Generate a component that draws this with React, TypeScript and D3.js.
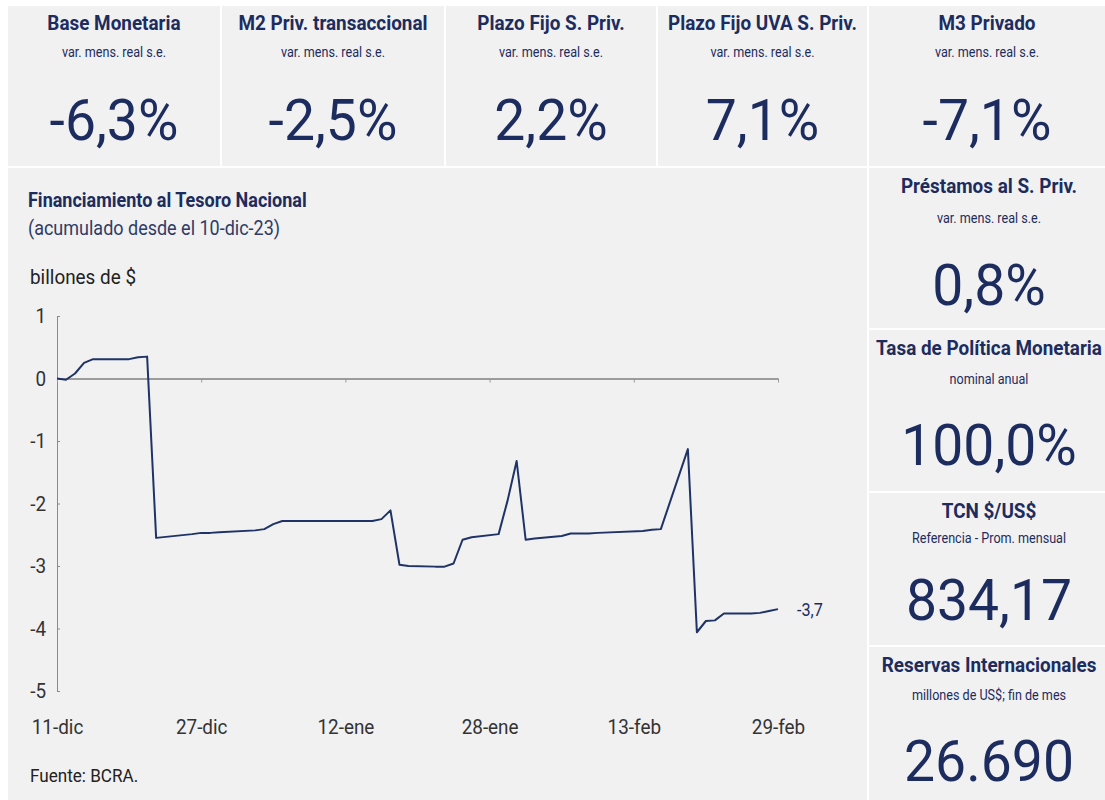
import React, { useEffect, useRef } from "react";
import * as d3 from "d3";

// tarjetas superiores
const topTitles = ["Base Monetaria", "M2 Priv. transaccional", "Plazo Fijo S. Priv.", "Plazo Fijo UVA S. Priv.", "M3 Privado"];
const topSubs = ["var. mens. real s.e.", "var. mens. real s.e.", "var. mens. real s.e.", "var. mens. real s.e.", "var. mens. real s.e."];
const topValues = ["-6,3%", "-2,5%", "2,2%", "7,1%", "-7,1%"];

// tarjetas de la derecha
const sideTitles = ["Préstamos al S. Priv.", "Tasa de Política Monetaria", "TCN $/US$", "Reservas Internacionales"];
const sideSubs = ["var. mens. real s.e.", "nominal anual", "Referencia - Prom. mensual", "millones de US$; fin de mes"];
const sideValues = ["0,8%", "100,0%", "834,17", "26.690"];

// serie: financiamiento al tesoro, billones de $
const dates = [
  "2023-12-11", "2023-12-12", "2023-12-13", "2023-12-14", "2023-12-15", "2023-12-18", "2023-12-19", "2023-12-20",
  "2023-12-21", "2023-12-22", "2023-12-26", "2023-12-27", "2023-12-28", "2023-12-29", "2024-01-02", "2024-01-03",
  "2024-01-04", "2024-01-05", "2024-01-08", "2024-01-09", "2024-01-10", "2024-01-11", "2024-01-12", "2024-01-15",
  "2024-01-16", "2024-01-17", "2024-01-18", "2024-01-19", "2024-01-22", "2024-01-23", "2024-01-24", "2024-01-25",
  "2024-01-26", "2024-01-29", "2024-01-30", "2024-01-31", "2024-02-01", "2024-02-02", "2024-02-05", "2024-02-06",
  "2024-02-07", "2024-02-08", "2024-02-09", "2024-02-14", "2024-02-15", "2024-02-16", "2024-02-19", "2024-02-20",
  "2024-02-21", "2024-02-22", "2024-02-23", "2024-02-26", "2024-02-27", "2024-02-28", "2024-02-29",
];
const values = [
  0.0, -0.02, 0.08, 0.25, 0.31, 0.31, 0.31, 0.34,
  0.35, -2.55, -2.49, -2.47, -2.47, -2.46, -2.43, -2.41,
  -2.33, -2.28, -2.28, -2.28, -2.28, -2.28, -2.28, -2.28,
  -2.25, -2.11, -2.98, -3.0, -3.01, -3.01, -2.96, -2.58,
  -2.54, -2.49, -1.95, -1.32, -2.58, -2.56, -2.52, -2.48,
  -2.48, -2.48, -2.47, -2.44, -2.42, -2.41, -1.13, -4.06,
  -3.88, -3.87, -3.76, -3.76, -3.75, -3.72, -3.69,
];
const tickDates = ["2023-12-11", "2023-12-27", "2024-01-12", "2024-01-28", "2024-02-13", "2024-02-29"];
const tickLabels = ["11-dic", "27-dic", "12-ene", "28-ene", "13-feb", "29-feb"];
const yTicks = [1, 0, -1, -2, -3, -4, -5];
const lastLabel = "-3,7";

const NAVY = "#1d2c5e";
const BG = "#f1f1f1";
const FONT = "Roboto, 'Noto Sans', sans-serif";
const SX = 0.9; // letra un poco angosta, como la original

const App = () => {
  const ref = useRef<SVGSVGElement>(null);

  useEffect(() => {
    drawChart();
  }, []);

  const drawChart = () => {
    const svg = d3.select(ref.current);
    svg.selectAll("*").remove();
    const parse = d3.timeParse("%Y-%m-%d");

    // texto angosto: se escala solo en x
    const label = (x: number, y: number, s: string, size: number, opts: any = {}) => {
      svg.append("text")
        .attr("transform", `translate(${x},${y}) scale(${opts.sx ?? SX},1)`)
        .attr("text-anchor", opts.anchor ?? "middle")
        .attr("font-family", FONT)
        .attr("font-weight", opts.bold ? "bold" : "normal")
        .attr("font-size", size)
        .attr("fill", opts.fill ?? NAVY)
        .text(s);
    };

    // paneles de arriba
    const topX = [8, 222, 446, 658, 869];
    const topW = [212, 222, 210, 209, 236];
    topX.forEach((x, i) => {
      svg.append("rect").attr("x", x).attr("y", 6).attr("width", topW[i]).attr("height", 160).attr("fill", BG);
      const cx = x + topW[i] / 2;
      label(cx, 30, topTitles[i], 21, { bold: true });
      label(cx, 57, topSubs[i], 14);
      label(cx, 140, topValues[i], 57, { sx: 0.97 });
    });

    const sideY = [168, 330, 493, 647];
    const sideH = [160, 161, 152, 153];
    const subDy = [55, 54, 50, 53];
    const valDy = [137, 135, 127, 134];
    sideY.forEach((y, i) => {
      svg.append("rect").attr("x", 869).attr("y", y).attr("width", 236).attr("height", sideH[i]).attr("fill", BG);
      const cx = 989;
      label(cx, y + 25, sideTitles[i], 21, { bold: true });
      label(cx, y + subDy[i], sideSubs[i], 14);
      label(cx, y + valDy[i], sideValues[i], 57, { sx: 0.97 });
    });

    // panel del grafico
    svg.append("rect").attr("x", 8).attr("y", 168).attr("width", 859).attr("height", 632).attr("fill", BG);
    label(28, 207, "Financiamiento al Tesoro Nacional", 20, { bold: true, anchor: "start" });
    label(28, 235, "(acumulado desde el 10-dic-23)", 20, { anchor: "start", fill: "#2f3b66" });
    label(30, 284, "billones de $", 21, { anchor: "start", fill: "#222" });
    label(30, 782, "Fuente: BCRA.", 19, { anchor: "start", fill: "#222" });

    const x = d3.scaleTime()
      .domain([parse(tickDates[0])!, parse(tickDates[tickDates.length - 1])!])
      .range([57, 778]);
    const y = d3.scaleLinear().domain([-5, 1]).range([691, 316]);

    // eje y
    const yAxis = svg.append("g").attr("transform", "translate(57,0)")
      .call(d3.axisLeft(y).tickValues(yTicks).tickSize(-3).tickPadding(12).tickFormat((d) => String(d)));
    yAxis.selectAll("path, line").attr("stroke", "#8a8a8a");
    yAxis.selectAll("text").attr("font-family", FONT).attr("font-size", 21).attr("fill", "#333")
      .attr("transform", "scale(0.9,1)");

    // linea del cero con marcas
    const tickDs = tickDates.map((d) => parse(d)!);
    const zero = svg.append("g").attr("transform", `translate(0,${y(0)})`)
      .call(d3.axisBottom(x).tickValues(tickDs).tickSize(4).tickSizeOuter(0).tickFormat(() => ""));
    zero.selectAll("path").attr("stroke", "#7f7f7f").attr("stroke-width", 1.6);
    zero.selectAll("line").attr("stroke", "#9a9a9a");

    // etiquetas de fechas abajo
    const xLab = svg.append("g").attr("transform", "translate(0,734)")
      .call(d3.axisBottom(x).tickValues(tickDs).tickSize(0).tickPadding(0)
        .tickFormat((d, i) => tickLabels[i]));
    xLab.select(".domain").remove();
    xLab.selectAll("text").attr("font-family", FONT).attr("font-size", 21).attr("fill", "#333")
      .attr("dy", 0).attr("transform", "scale(0.9,1)");

    // serie
    const pts = dates.map((d, i) => ({ d: parse(d)!, v: values[i] }));
    const line = d3.line<{ d: Date; v: number }>().x((p) => x(p.d)).y((p) => y(p.v));
    svg.append("path").datum(pts).attr("d", line).attr("fill", "none")
      .attr("stroke", "#1f3366").attr("stroke-width", 2).attr("stroke-linejoin", "round");

    const last = pts[pts.length - 1];
    label(x(last.d) + 19, y(last.v) + 7, lastLabel, 18, { anchor: "start" });
  };

  return (
    <div style={{ position: "absolute", left: 0, top: 0, width: 1105, height: 800, background: "#fff" }}>
      <svg ref={ref} width={1105} height={800} style={{ display: "block" }} />
    </div>
  );
};

export default App;
